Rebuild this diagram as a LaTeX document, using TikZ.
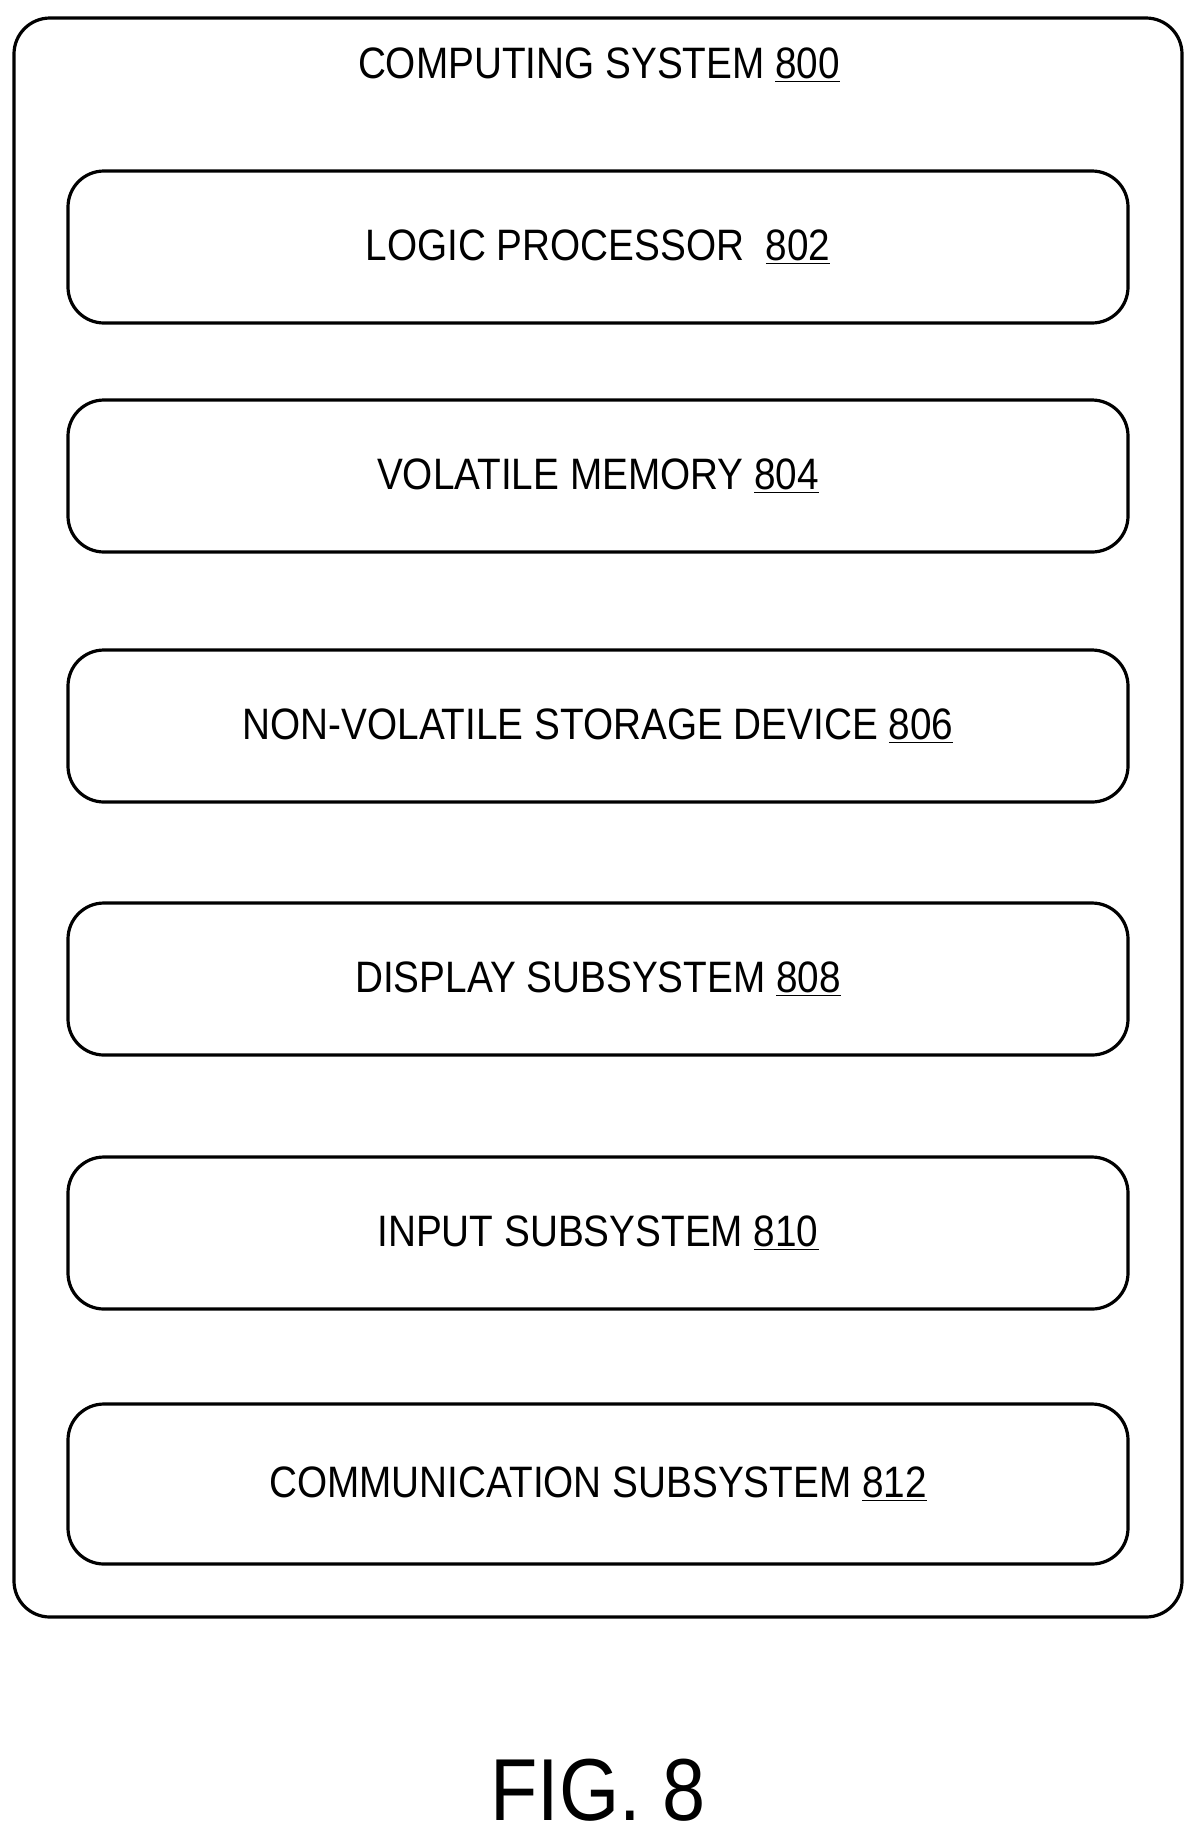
\documentclass[tikz,border=0pt]{standalone}
\usepackage{fontspec}
\setmainfont[FakeStretch=0.88]{Liberation Sans}
\usetikzlibrary{positioning}
\newcommand{\refnum}[1]{\underline{#1}}
\tikzset{
  unitbox/.style={draw,line width=1.6pt,rounded corners=18pt,minimum width=530pt,minimum height=76pt,font=\fontsize{22}{26}\selectfont},
}
\begin{document}
\begin{tikzpicture}[x=0.5pt,y=-0.5pt]
  \useasboundingbox (0,0) rectangle (1200,1843);
  \draw[line width=1.6pt,rounded corners=18pt] (14,18) rectangle (1182,1617);
  \node[font=\fontsize{22}{26}\selectfont] (title) at (599,65) {COMPUTING SYSTEM \refnum{800}};

  \node[unitbox] (logic)   at (598,247)  {LOGIC PROCESSOR\ \ \refnum{802}};
  \node[unitbox] (volmem)  at (598,476)  {VOLATILE MEMORY \refnum{804}};
  \node[unitbox] (nvstore) at (598,726)  {NON-VOLATILE STORAGE DEVICE \refnum{806}};
  \node[unitbox] (display) at (598,979)  {DISPLAY SUBSYSTEM \refnum{808}};
  \node[unitbox] (input)   at (598,1233) {INPUT SUBSYSTEM \refnum{810}};
  \node[unitbox,minimum height=80pt] (comm) at (598,1484) {COMMUNICATION SUBSYSTEM \refnum{812}};

  \node[font=\fontsize{44}{52}\selectfont] (fig) at (598,1790) {FIG. 8};
\end{tikzpicture}
\end{document}
